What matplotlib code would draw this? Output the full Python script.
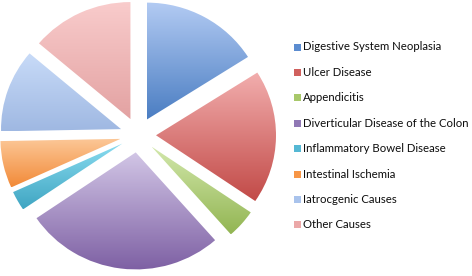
import matplotlib.pyplot as plt
import numpy as np
from matplotlib.colors import LinearSegmentedColormap
from matplotlib.patches import Rectangle

labels = ['Digestive System Neoplasia', 'Ulcer Disease', 'Appendicitis',
          'Diverticular Disease of the Colon', 'Inflammatory Bowel Disease',
          'Intestinal Ischemia', 'Iatrocgenic Causes', 'Other Causes']
values = [16.0, 18.5, 4.0, 27.0, 2.7, 6.5, 11.5, 13.8]

# light (top) and dark (bottom) colour of each gradient
top_colors = ['#b3cbf3', '#f2aeae', '#d3e8ac', '#d2c6e6', '#8adcf0', '#fcc898', '#c8dbf8', '#f9cccc']
bottom_colors = ['#4a7dc2', '#c24a47', '#92b552', '#7d5fa3', '#3fa5c2', '#f28a38', '#9fb8e2', '#e3a2a2']
mid_colors = ['#5b8cd0', '#d0605d', '#a8c86a', '#9078b5', '#55b8d4', '#f79646', '#a9c3ec', '#eba8a8']

plt.rcParams['font.family'] = ['Lato', 'DejaVu Sans']

fig = plt.figure(figsize=(4.72, 2.76), dpi=100)
ax = fig.add_axes([0, 0, 280 / 472, 1])

sx, sy = 120.0, 117.0
cx, cy = 138.0, 135.0
xlim = (-cx / sx, (280 - cx) / sx)
ylim = (-(276 - cy) / sy, cy / sy)

wedges, _ = ax.pie(values, startangle=90, counterclock=False,
                   explode=[0.15] * len(values), radius=1.0,
                   wedgeprops=dict(linewidth=0))

grad = np.linspace(0, 1, 256).reshape(-1, 1)
for w, c1, c2 in zip(wedges, top_colors, bottom_colors):
    w.set_facecolor('none')
    pts = w.get_patch_transform().transform(w.get_path().vertices)
    x0, y0 = pts.min(axis=0)
    x1, y1 = pts.max(axis=0)
    cmap = LinearSegmentedColormap.from_list('g', [c1, c2])
    im = ax.imshow(grad, cmap=cmap, extent=[x0, x1, y0, y1], origin='upper',
                   aspect='auto', interpolation='bilinear', zorder=1)
    im.set_clip_path(w)

ax.set_aspect('auto')
ax.set_xlim(*xlim)
ax.set_ylim(*ylim)
ax.axis('off')

# legend drawn by hand
W, H = 472.0, 276.0
for i, (lab, col) in enumerate(zip(labels, mid_colors)):
    yc = 47 + i * 25.4
    fig.patches.append(Rectangle((294 / W, 1 - (yc + 3.5) / H), 7 / W, 7 / H,
                                 transform=fig.transFigure, facecolor=col,
                                 edgecolor='none'))
    fig.text(303 / W, 1 - yc / H, lab, fontsize=8.2, color='#0d0d0d',
             va='center', ha='left')

fig.savefig('out.png', dpi=100)
